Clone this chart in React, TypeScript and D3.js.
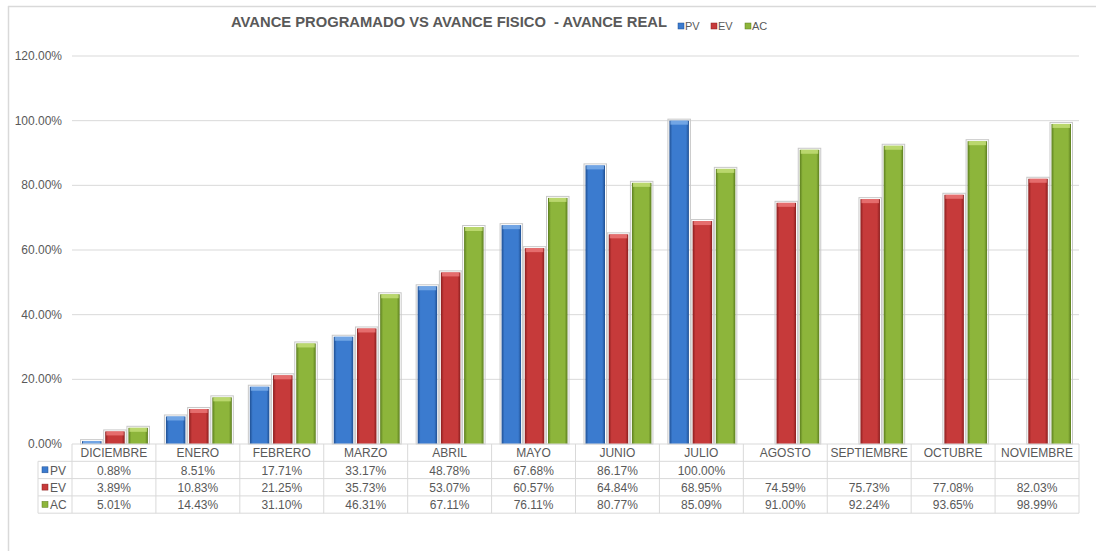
import React from "react";
import * as d3 from "d3";

const categories = ["DICIEMBRE","ENERO","FEBRERO","MARZO","ABRIL","MAYO","JUNIO","JULIO","AGOSTO","SEPTIEMBRE","OCTUBRE","NOVIEMBRE"];
const pv: (number | null)[] = [0.88, 8.51, 17.71, 33.17, 48.78, 67.68, 86.17, 100.0, null, null, null, null];
const ev: (number | null)[] = [3.89, 10.83, 21.25, 35.73, 53.07, 60.57, 64.84, 68.95, 74.59, 75.73, 77.08, 82.03];
const ac: (number | null)[] = [5.01, 14.43, 31.10, 46.31, 67.11, 76.11, 80.77, 85.09, 91.00, 92.24, 93.65, 98.99];
const yTicks = [0, 20, 40, 60, 80, 100, 120];
const seriesNames = ["PV", "EV", "AC"];
const seriesColors = [
  { base: "#3b7bcf", dark: "#1f4f92", light: "#7fb0ea" },
  { base: "#c63a3a", dark: "#8a1e1e", light: "#ec7b7b" },
  { base: "#8db53b", dark: "#5b7d1e", light: "#c5e07a" },
];
const title = "AVANCE PROGRAMADO VS AVANCE FISICO\u00a0\u00a0- AVANCE REAL";

export default function App() {
  const W = 1096, H = 551;
  const left = 72, right = 1079, top = 56, bottom = 444;
  const x = d3.scaleBand<string>().domain(categories).range([left, right]);
  const inner = d3.scaleBand<string>().domain(seriesNames).range([10, x.bandwidth() - 8]).paddingInner(0.16);
  const y = d3.scaleLinear().domain([0, 120]).range([bottom, top]);
  const data = [pv, ev, ac];
  const rowH = 17.3;
  const font = "'Liberation Sans', Arial, sans-serif";
  const txt = "#595959";
  const grid = "#d9d9d9";

  return (
    <svg width={W} height={H} style={{ position: "absolute", left: 0, top: 0, fontFamily: font }}>
      <defs>
        {seriesColors.map((c, i) => (
          <linearGradient key={i} id={`g${i}`} x1="0" x2="1" y1="0" y2="0">
            <stop offset="0" stopColor={c.dark} />
            <stop offset="0.15" stopColor={c.base} />
            <stop offset="0.5" stopColor={c.base} />
            <stop offset="0.85" stopColor={c.base} />
            <stop offset="1" stopColor={c.dark} />
          </linearGradient>
        ))}
      </defs>
      <rect x={0} y={0} width={W} height={H} fill="#fff" />
      <line x1={8.5} x2={8.5} y1={6} y2={H} stroke="#d9d9d9" strokeWidth={1.5} />
      <line x1={8} x2={W} y1={6.5} y2={6.5} stroke="#d9d9d9" strokeWidth={1.5} />

      <text x={231} y={27} fontSize={15} fontWeight="bold" fill={txt} textLength={436} lengthAdjust="spacingAndGlyphs">{title}</text>
      {seriesNames.map((s, i) => {
        const lx = [678, 711, 745][i];
        return (
          <g key={s}>
            <rect x={lx} y={23} width={6} height={6} fill={seriesColors[i].base} stroke={seriesColors[i].dark} strokeWidth={0.5} />
            <text x={lx + 7} y={30} fontSize={11} fill={txt}>{s}</text>
          </g>
        );
      })}

      {yTicks.map((t) => (
        <g key={t}>
          {t > 0 && <line x1={left} x2={right} y1={y(t)} y2={y(t)} stroke={grid} strokeWidth={1} />}
          <text x={62} y={y(t) + 4} fontSize={12} fill={txt} textAnchor="end">{t.toFixed(2)}%</text>
        </g>
      ))}

      {categories.map((c, ci) =>
        data.map((ser, si) => {
          const v = ser[ci];
          if (v == null) return null;
          const bx = (x(c) as number) + (inner(seriesNames[si]) as number);
          const bw = inner.bandwidth();
          const by = y(v);
          const bh = bottom - by;
          const col = seriesColors[si];
          return (
            <g key={`${c}-${si}`}>
              <rect x={bx - 1.5} y={by - 1.5} width={bw + 3} height={bh + 1.5} fill="none" stroke="#c8c8c8" strokeWidth={1} />
              <rect x={bx} y={by} width={bw} height={bh} fill={`url(#g${si})`} />
              <rect x={bx + 1} y={by} width={bw - 2} height={Math.min(4, bh)} fill={col.light} opacity={0.8} />
            </g>
          );
        })
      )}

      {(() => {
        const t0 = bottom;
        const rows = 4;
        const els: React.ReactNode[] = [];
        for (let r = 0; r <= rows; r++) {
          const yy = t0 + r * rowH;
          els.push(<line key={`h${r}`} x1={r === 0 ? left : 38} x2={right} y1={yy} y2={yy} stroke={grid} />);
        }
        els.push(<line key="vl" x1={38} x2={38} y1={t0 + rowH} y2={t0 + rows * rowH} stroke={grid} />);
        const xs = [...categories.map((c) => x(c) as number), right];
        xs.forEach((xx, i) => els.push(<line key={`v${i}`} x1={xx} x2={xx} y1={t0} y2={t0 + rows * rowH} stroke={grid} />));
        categories.forEach((c) => {
          const cx = (x(c) as number) + x.bandwidth() / 2;
          els.push(<text key={`c${c}`} x={cx} y={t0 + rowH - 4} fontSize={12} fill={txt} textAnchor="middle">{c}</text>);
        });
        data.forEach((ser, si) => {
          const ry = t0 + (si + 1) * rowH;
          els.push(<rect key={`lg${si}`} x={42} y={ry + 5.5} width={6} height={6} fill={seriesColors[si].base} stroke={seriesColors[si].dark} strokeWidth={0.5} />);
          els.push(<text key={`ln${si}`} x={50} y={ry + rowH - 4} fontSize={12} fill={txt}>{seriesNames[si]}</text>);
          ser.forEach((v, ci) => {
            if (v == null) return;
            const cx = (x(categories[ci]) as number) + x.bandwidth() / 2;
            els.push(<text key={`d${si}-${ci}`} x={cx} y={ry + rowH - 4} fontSize={12} fill={txt} textAnchor="middle">{v.toFixed(2)}%</text>);
          });
        });
        return els;
      })()}
    </svg>
  );
}
